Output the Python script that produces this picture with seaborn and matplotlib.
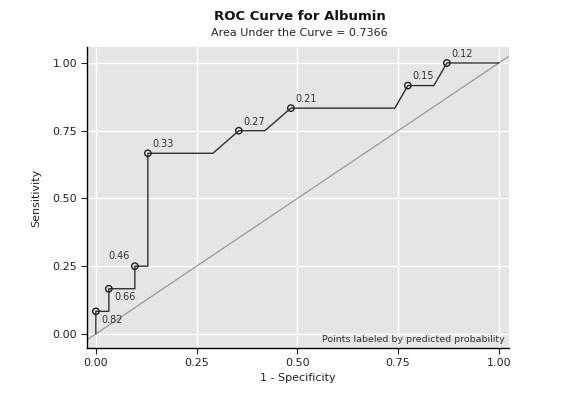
import matplotlib
matplotlib.use("Agg")
import matplotlib.pyplot as plt
import seaborn as sns
import pandas as pd

# ROC path (1 - specificity, sensitivity)
fpr = [0, 0, 1/31, 1/31, 3/31, 3/31, 4/31, 4/31, 9/31, 11/31, 13/31, 15/31,
       23/31, 24/31, 26/31, 27/31, 1]
tpr = [0, 1/12, 1/12, 2/12, 2/12, 3/12, 3/12, 8/12, 8/12, 9/12, 9/12, 10/12,
       10/12, 11/12, 11/12, 1, 1]

# labeled cutpoints
pt_fpr = [0, 1/31, 3/31, 4/31, 11/31, 15/31, 24/31, 27/31]
pt_tpr = [1/12, 2/12, 3/12, 8/12, 9/12, 10/12, 11/12, 1]
pt_prob = ["0.82", "0.66", "0.46", "0.33", "0.27", "0.21", "0.15", "0.12"]

ticks = [0, 0.25, 0.5, 0.75, 1.0]
tick_labels = ["0.00", "0.25", "0.50", "0.75", "1.00"]

sns.set_theme(style="darkgrid", rc={"axes.facecolor": "#e5e5e5",
                                    "grid.color": "white",
                                    "grid.linewidth": 1.0})
plt.rcParams["font.family"] = ["DejaVu Sans"]

fig = plt.figure(figsize=(5.63, 3.94), dpi=100)
ax = fig.add_axes([0.1545, 0.1168, 0.7495, 0.7639])

curve = pd.DataFrame({"fpr": fpr, "tpr": tpr})
points = pd.DataFrame({"fpr": pt_fpr, "tpr": pt_tpr, "prob": pt_prob})

ax.axline((0, 0), (1, 1), color="#9a9a9a", lw=0.9, zorder=2)
sns.lineplot(data=curve, x="fpr", y="tpr", sort=False, estimator=None,
             color="#303030", lw=1.0, ax=ax, zorder=3)
sns.scatterplot(data=points, x="fpr", y="tpr", marker="o", s=21,
                facecolor="none", edgecolor="#202020", linewidth=1.0,
                ax=ax, zorder=4)

# label offsets in points
offsets = {"0.82": (4, -6, "left", "center"),
           "0.66": (4, -6, "left", "center"),
           "0.46": (-4, 4, "right", "bottom")}
for _, r in points.iterrows():
    dx, dy, ha, va = offsets.get(r["prob"], (3, 3, "left", "bottom"))
    ax.annotate(r["prob"], (r["fpr"], r["tpr"]), xytext=(dx, dy),
                textcoords="offset points", ha=ha, va=va, fontsize=7,
                color="#333333")

ax.text(0.99, 0.012, "Points labeled by predicted probability",
        transform=ax.transAxes, ha="right", va="bottom", fontsize=6.8,
        color="#333333")

ax.set_xlim(-0.022, 1.025)
ax.set_ylim(-0.052, 1.059)
ax.set_xticks(ticks)
ax.set_xticklabels(tick_labels)
ax.set_yticks(ticks)
ax.set_yticklabels(tick_labels)
ax.tick_params(axis="both", labelsize=8, colors="#222222", length=4,
               width=0.8, direction="out", left=True, bottom=True, pad=3)
ax.set_xlabel("1 - Specificity", fontsize=8, color="#222222", labelpad=4)
ax.set_ylabel("Sensitivity", fontsize=8, color="#222222", labelpad=8)

for side in ["top", "right"]:
    ax.spines[side].set_visible(False)
for side in ["left", "bottom"]:
    ax.spines[side].set_visible(True)
    ax.spines[side].set_color("black")
    ax.spines[side].set_linewidth(1.0)

fig.text(0.533, 0.957, "ROC Curve for Albumin", ha="center", va="center",
         fontsize=9.5, fontweight="bold", color="#111111")
fig.text(0.531, 0.917, "Area Under the Curve = 0.7366", ha="center",
         va="center", fontsize=8, color="#222222")

fig.savefig("out.png", dpi=100)
